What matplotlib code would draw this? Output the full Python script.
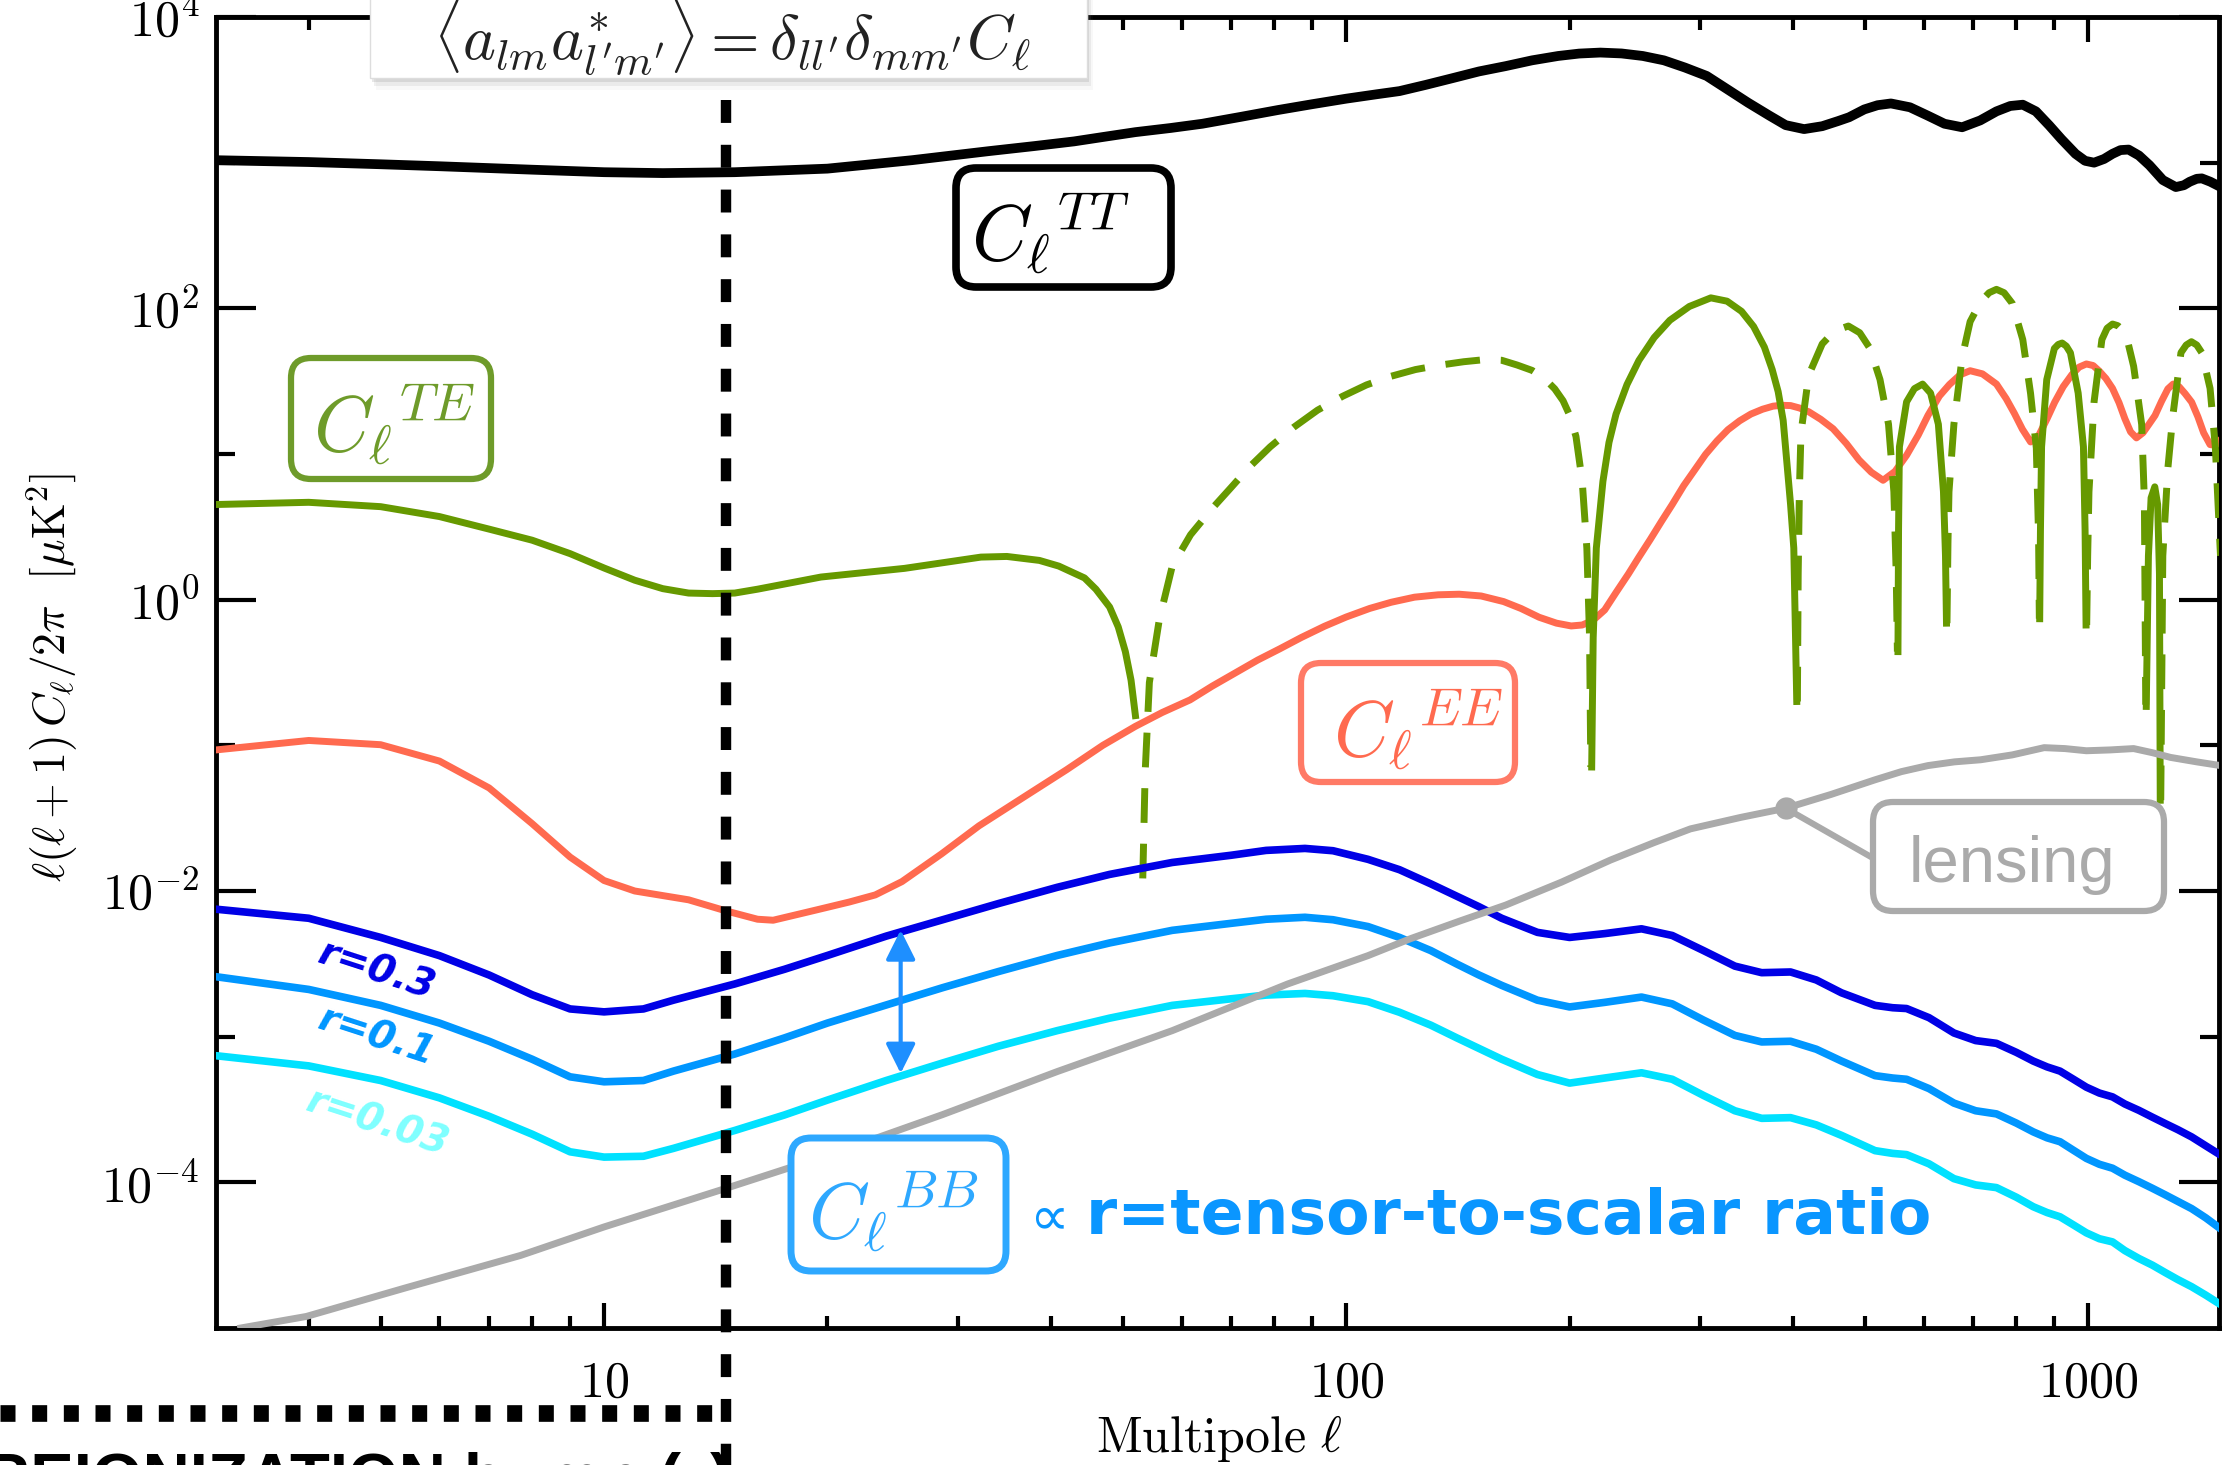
import numpy as np
import matplotlib
matplotlib.use("Agg")
import matplotlib.pyplot as plt
from matplotlib.patches import FancyBboxPatch, Rectangle
from matplotlib.lines import Line2D
from matplotlib.ticker import FixedLocator, NullFormatter

plt.rcParams['mathtext.fontset'] = 'cm'

# ---- spectra: l(l+1)C_l/2pi in uK^2 ----
tt_ell = [3, 4, 5, 6, 8, 10, 12, 15, 20, 26, 33, 38, 43, 47, 52, 58, 64, 72, 81, 90, 100,
          110, 118, 128, 139, 151, 164, 178, 193, 206, 220, 235, 251, 268, 286, 306, 326,
          348, 372, 391, 414, 438, 460, 476, 499, 520, 542, 575, 608, 640, 676, 715, 752,
          785, 816, 850, 886, 920, 961, 990, 1018, 1050, 1078, 1105, 1133, 1170, 1209,
          1260, 1312, 1345, 1370, 1400, 1422, 1460, 1500]
tt_val = [1040, 1010, 975, 945, 895, 860, 848, 860, 910, 1040, 1200, 1300, 1400, 1500, 1620,
          1730, 1850, 2060, 2300, 2520, 2750, 2950, 3100, 3420, 3800, 4230, 4600, 5040, 5400,
          5610, 5700, 5620, 5400, 5040, 4500, 3940, 3200, 2580, 2100, 1810, 1700, 1780, 1930,
          2050, 2320, 2480, 2550, 2400, 2100, 1850, 1750, 1950, 2250, 2450, 2500, 2250, 1800,
          1450, 1150, 1030, 1000, 1060, 1150, 1220, 1230, 1120, 960, 760, 680, 700, 740, 775,
          780, 740, 690]

# TE keeps its sign: positive drawn solid, negative drawn dashed (as |TE|)
te_ell = [3, 4, 5, 6, 7, 8, 9, 10, 11, 12, 13, 14, 15, 16.1, 19.6, 25.4, 32.2, 34.9, 38.6,
          41, 44.4, 46, 48, 49.3, 50.4, 51.3, 52,
          53.2, 53.6, 54.3, 56, 58.3, 61.7, 66.1, 70, 73.9, 79, 84.9, 91.5, 98.9, 106.5, 115,
          124, 134, 144, 154, 162, 170, 178, 185, 191, 196, 200, 204, 208, 211, 212.8, 213.6,
          214.2, 215.2, 217.3, 221.8, 226, 231, 239, 248, 260, 273, 290, 310, 326, 341, 354,
          366, 375, 382, 388, 392, 397, 401, 404.7,
          405.5, 406.5, 408, 410, 420, 438, 455, 475, 492, 508, 524, 538, 547, 551, 553,
          554, 555, 556.5, 569, 583, 598, 613, 628, 638, 642, 644,
          645, 647, 649, 659, 676, 693, 716, 735, 752, 770, 790, 816, 836, 851, 857, 859,
          860, 862, 865, 879, 900, 911, 922, 934, 946, 969, 985, 990, 993,
          995, 998, 1002, 1018, 1043, 1060, 1078, 1096, 1114, 1132, 1151, 1180, 1190, 1195,
          1197, 1205, 1215, 1229, 1240, 1247, 1250,
          1252, 1260, 1280, 1300, 1333, 1355, 1377, 1400, 1422, 1459, 1483, 1507]
te_val = [4.5, 4.66, 4.35, 3.72, 3.05, 2.56, 2.07, 1.65, 1.36, 1.19, 1.11, 1.10, 1.11, 1.18,
          1.43, 1.64, 1.96, 1.98, 1.86, 1.70, 1.41, 1.18, 0.89, 0.65, 0.44, 0.28, 0.16,
          -0.0122, -0.066, -0.27, -0.73, -1.70, -2.79, -4.27, -5.9, -8.05, -11.2, -15.2,
          -20.0, -24.9, -29.8, -34.2, -38.0, -40.8, -43.0, -44.5, -44.0, -40.8, -37.5,
          -33.0, -28.0, -23.2, -18.5, -13.2, -6.5, -2.26, -0.55, -0.071,
          0.071, 0.55, 2.26, 6.5, 12, 18.8, 30, 43.9, 63, 82.8, 103, 118, 112, 95.3, 75,
          54.2, 38, 26.8, 17, 9.3, 4.5, 2.26, 0.2,
          -0.2, -1.5, -5.5, -13.9, -34.8, -57, -70, -75.6, -68, -53, -32.4, -16, -5.5, -1.5,
          -0.44,
          0.44, 3.0, 11.2, 22.8, 28.1, 30.2, 26.2, 16, 5.5, 2.0, 0.69,
          -0.69, -2.5, -5.5, -16, -46, -81, -111, -128, -135, -128, -108, -61, -26, -11,
          -2.7, -0.74,
          0.74, 3.0, 11.2, 32.4, 53, 56.5, 57.8, 55, 49.5, 26.2, 11.2, 3.0, 0.67,
          -0.67, -2.0, -5.5, -22.8, -61, -73, -78, -76, -70, -57, -40, -16, -4.8, -0.19,
          0.185, 2.0, 5.0, 5.95, 4.5, 1.5, 0.042,
          -0.042, -2.0, -8.0, -18.4, -49.6, -56, -59, -56, -49.6, -28.2, -11.2, -2.0]

ee_ell = [3, 4, 5, 6, 7, 8, 9, 10, 11, 13, 14.6, 16.1, 16.9, 19.3, 21.4, 23.2, 25.2, 28.5,
          32, 37, 42, 47, 52, 56.5, 61.6, 66, 70.8, 76, 81.4, 87, 93.5, 100, 107.6, 115,
          123.6, 133, 142, 152, 163, 172, 182, 192, 201, 208, 215, 223, 231, 240, 248, 257,
          266, 275, 285, 295, 305, 316, 327, 339, 351, 364, 376, 386, 397, 408, 420, 436,
          453, 472, 491, 510, 529, 549, 569, 590, 608, 630, 650, 672, 693, 720, 752, 775,
          795, 815, 836, 858, 880, 901, 925, 950, 972, 994, 1015, 1035, 1056, 1078, 1100,
          1120, 1140, 1161, 1185, 1207, 1230, 1255, 1280, 1301, 1325, 1350, 1378, 1405,
          1430, 1459, 1485, 1507]
ee_val = [0.093, 0.108, 0.101, 0.078, 0.051, 0.029, 0.0171, 0.0118, 0.0100, 0.0087, 0.0073,
          0.0064, 0.0063, 0.0074, 0.0084, 0.0094, 0.0116, 0.018, 0.028, 0.045, 0.068, 0.10,
          0.135, 0.168, 0.205, 0.255, 0.313, 0.385, 0.46, 0.55, 0.657, 0.76, 0.871, 0.96,
          1.04, 1.08, 1.09, 1.06, 0.97, 0.87, 0.757, 0.69, 0.66, 0.67, 0.72, 0.85, 1.12, 1.5,
          1.96, 2.6, 3.45, 4.5, 6.07, 7.8, 9.95, 12.3, 14.7, 16.9, 18.8, 20.3, 21.3, 21.6,
          21.5, 20.7, 19.5, 17.3, 14.9, 11.8, 9.1, 7.5, 6.6, 7.6, 9.8, 13.5, 18.4, 25, 30,
          35, 37.3, 35.5, 30.2, 24, 19, 14.8, 12.1, 13.5, 17.5, 22.7, 29, 35, 39.5, 41.5,
          40.5, 37, 33, 28.2, 22.5, 17.5, 14.2, 12.9, 14, 16, 18.4, 23, 28, 30.2, 29, 26,
          22.7, 18, 14, 11.6, 11.5, 12.5]

bb_ell = [3, 4, 5, 6, 7, 8, 9, 10, 11.3, 12.4, 15, 17.5, 20, 24, 28.6, 34, 40.8, 48, 58.3,
          70, 78, 88, 96, 107, 118, 130, 141, 151, 162, 181, 200, 223, 250, 275, 303, 334,
          363, 397, 430, 465, 516, 545, 569, 610, 659, 705, 752, 800, 843, 880, 916, 955,
          994, 1035, 1078, 1120, 1170, 1220, 1270, 1320, 1378, 1440, 1507]
bb_r03 = [7.5e-3, 6.5e-3, 4.8e-3, 3.6e-3, 2.65e-3, 1.94e-3, 1.55e-3, 1.48e-3, 1.55e-3,
          1.78e-3, 2.30e-3, 2.9e-3, 3.61e-3, 4.9e-3, 6.35e-3, 8.2e-3, 1.06e-2, 1.3e-2,
          1.57e-2, 1.76e-2, 1.90e-2, 1.96e-2, 1.89e-2, 1.65e-2, 1.4e-2, 1.12e-2, 9.2e-3,
          7.8e-3, 6.5e-3, 5.2e-3, 4.8e-3, 5.1e-3, 5.5e-3, 4.95e-3, 3.9e-3, 3.05e-3, 2.75e-3,
          2.78e-3, 2.45e-3, 2.0e-3, 1.64e-3, 1.58e-3, 1.56e-3, 1.35e-3, 1.06e-3, 9.4e-4,
          9.0e-4, 7.8e-4, 6.8e-4, 6.2e-4, 5.8e-4, 5.1e-4, 4.5e-4, 4.1e-4, 3.86e-4, 3.45e-4,
          3.12e-4, 2.8e-4, 2.53e-4, 2.3e-4, 2.05e-4, 1.78e-4, 1.54e-4]
bb_r01 = [2.58e-3, 2.11e-3, 1.64e-3, 1.24e-3, 9.3e-4, 7.0e-4, 5.3e-4, 4.9e-4, 5.0e-4, 5.8e-4,
          7.6e-4, 9.8e-4, 1.24e-3, 1.65e-3, 2.17e-3, 2.8e-3, 3.61e-3, 4.4e-3, 5.37e-3, 6.0e-3,
          6.4e-3, 6.6e-3, 6.35e-3, 5.7e-3, 4.8e-3, 3.9e-3, 3.15e-3, 2.65e-3, 2.25e-3, 1.78e-3,
          1.6e-3, 1.72e-3, 1.87e-3, 1.68e-3, 1.3e-3, 1.02e-3, 9.2e-4, 9.3e-4, 8.2e-4, 6.8e-4,
          5.4e-4, 5.2e-4, 5.1e-4, 4.4e-4, 3.5e-4, 3.1e-4, 2.95e-4, 2.55e-4, 2.22e-4, 2.02e-4,
          1.9e-4, 1.66e-4, 1.46e-4, 1.33e-4, 1.25e-4, 1.12e-4, 1.01e-4, 9.1e-5, 8.2e-5,
          7.4e-5, 6.6e-5, 5.7e-5, 4.8e-5]
bb_r003 = [7.4e-4, 6.3e-4, 5.0e-4, 3.8e-4, 2.84e-4, 2.14e-4, 1.62e-4, 1.49e-4, 1.51e-4,
           1.71e-4, 2.27e-4, 2.9e-4, 3.67e-4, 5.0e-4, 6.6e-4, 8.6e-4, 1.10e-3, 1.34e-3,
           1.64e-3, 1.82e-3, 1.93e-3, 1.98e-3, 1.91e-3, 1.74e-3, 1.47e-3, 1.2e-3, 9.8e-4,
           8.3e-4, 7.0e-4, 5.5e-4, 4.8e-4, 5.2e-4, 5.65e-4, 5.1e-4, 3.95e-4, 3.1e-4, 2.75e-4,
           2.78e-4, 2.48e-4, 2.1e-4, 1.65e-4, 1.58e-4, 1.55e-4, 1.34e-4, 1.06e-4, 9.6e-5,
           9.2e-5, 7.9e-5, 6.8e-5, 6.2e-5, 5.8e-5, 5.1e-5, 4.5e-5, 4.1e-5, 3.9e-5, 3.4e-5,
           3.0e-5, 2.7e-5, 2.4e-5, 2.15e-5, 1.92e-5, 1.68e-5, 1.45e-5]

lens_ell = [3.24, 3.97, 5.41, 7.72, 10, 14.7, 20, 28.6, 40.8, 58.3, 83.4, 107, 122, 142, 164,
            195, 227, 260, 291, 340, 391, 450, 516, 560, 608, 660, 716, 790, 872, 930, 994,
            1070, 1151, 1220, 1291, 1400, 1507]
lens_val = [1.0e-5, 1.2e-5, 1.89e-5, 3.15e-5, 4.94e-5, 9.2e-5, 1.53e-4, 2.92e-4, 5.76e-4,
            1.10e-3, 2.30e-3, 3.6e-3, 4.7e-3, 6.2e-3, 8.0e-3, 1.15e-2, 1.63e-2, 2.15e-2,
            2.67e-2, 3.2e-2, 3.7e-2, 4.6e-2, 5.8e-2, 6.6e-2, 7.26e-2, 7.7e-2, 7.96e-2, 8.6e-2,
            9.64e-2, 9.5e-2, 9.18e-2, 9.3e-2, 9.5e-2, 8.9e-2, 8.26e-2, 7.7e-2, 7.26e-2]

# marker line, arrow and lensing pointer (data coordinates)
ell_marker = 14.6
marker_top = 2700
arrow_ell = 25.1
arrow_top = 5.4e-3
arrow_bottom = 5.6e-4
lens_dot = (391, 0.037)
lens_tail = (512, 0.0169)

# colours
green = '#669900'
salmon = '#FF6A4F'
blue_03 = '#0000E6'
blue_01 = '#0096FF'
blue_003 = '#00E1FF'
grey = '#AAAAAA'

# image size in pixels, used to place the overlay boxes
W, H = 2226, 1465


def fx(px):
    return px / W


def fy(py):
    return 1 - py / H


def label_box(fig, x0, y0, x1, y1, color, lw):
    '''Rounded white box given its pixel corners (y measured from the top).'''
    box = FancyBboxPatch((fx(x0), fy(y1)), fx(x1) - fx(x0), fy(y0) - fy(y1),
                         boxstyle="round,pad=0,rounding_size=0.009",
                         mutation_aspect=W / H, transform=fig.transFigure,
                         fc='white', ec=color, lw=lw, zorder=5)
    fig.add_artist(box)


def main():
    fig = plt.figure(figsize=(W / 100, H / 100), dpi=100)
    ax = fig.add_axes([fx(216), 1 - 1328 / H, (2219 - 216) / W, (1328 - 17) / H])
    ax.set_xscale('log')
    ax.set_yscale('log')

    # spectra
    ax.plot(tt_ell, tt_val, color='black', lw=7, zorder=3)
    ax.plot(ee_ell, ee_val, color=salmon, lw=5, zorder=3)
    te = np.array(te_val)
    te_pos = np.where(te > 0, te, np.nan)
    te_neg = np.where(te < 0, -te, np.nan)
    ax.plot(te_ell, te_pos, color=green, lw=5, zorder=3)
    ax.plot(te_ell, te_neg, color=green, lw=5, ls=(0, (5, 3)), zorder=3)
    ax.plot(bb_ell, bb_r03, color=blue_03, lw=5.5, zorder=3)
    ax.plot(bb_ell, bb_r01, color=blue_01, lw=5.5, zorder=3)
    ax.plot(bb_ell, bb_r003, color=blue_003, lw=5.5, zorder=3)
    ax.plot(lens_ell, lens_val, color=grey, lw=5, zorder=3)

    # lensing pointer
    ax.plot([lens_dot[0], lens_tail[0]], [lens_dot[1], lens_tail[1]], color=grey, lw=4.5,
            zorder=3)
    ax.plot(lens_dot[0], lens_dot[1], 'o', color=grey, ms=15, zorder=3)

    # double arrow between r=0.3 and r=0.03
    ax.annotate('', xy=(arrow_ell, arrow_bottom), xytext=(arrow_ell, arrow_top),
                arrowprops=dict(arrowstyle='<|-|>', color='#1E8FFF', lw=3,
                                mutation_scale=45, shrinkA=0, shrinkB=0), zorder=4)

    # dashed marker line, runs off the bottom of the figure
    ax.plot([ell_marker, ell_marker], [marker_top, 1e-6], color='black', lw=7.5,
            ls=(0, (2.2, 2.1)), clip_on=False, zorder=4)

    ax.set_xlim(3, 1500)
    ax.set_ylim(1e-5, 1e4)

    # ticks
    ax.set_xticks([10, 100, 1000])
    ax.set_xticklabels([r'$10$', r'$100$', r'$1000$'], fontsize=36)
    ax.xaxis.set_minor_locator(FixedLocator([4, 5, 6, 7, 8, 9, 20, 30, 40, 50, 60, 70, 80, 90,
                                             200, 300, 400, 500, 600, 700, 800, 900]))
    ax.xaxis.set_minor_formatter(NullFormatter())
    ax.set_yticks([1e-4, 1e-2, 1, 1e2, 1e4])
    ax.set_yticklabels([r'$10^{-4}$', r'$10^{-2}$', r'$10^{0}$', r'$10^{2}$', r'$10^{4}$'],
                       fontsize=36)
    ax.yaxis.set_minor_locator(FixedLocator([1e-3, 1e-1, 10, 1e3]))
    ax.yaxis.set_minor_formatter(NullFormatter())
    ax.tick_params(which='both', direction='in', top=True, right=True, width=3)
    ax.tick_params(axis='x', which='major', length=18, pad=22)
    ax.tick_params(axis='x', which='minor', length=9)
    ax.tick_params(axis='y', which='major', length=29, pad=12)
    ax.tick_params(axis='y', which='minor', length=14)
    for s in ax.spines.values():
        s.set_linewidth(3.5)

    # axis titles
    fig.text(fx(52), fy(677), r'$\ell(\ell+1)\,C_\ell/2\pi\ \ [\mu{\rm K}^2]$', rotation=90,
             fontsize=33, ha='center', va='center')
    fig.text(fx(1219), fy(1438), r'${\rm Multipole}\ \ell$', fontsize=36, ha='center',
             va='center')

    # labelled boxes
    label_box(fig, 956, 168, 1171, 287, 'black', 5.5)
    fig.text(fx(1050), fy(234), r'$C_\ell{}^{TT}$', fontsize=56, ha='center', va='center',
             zorder=6)
    label_box(fig, 291, 358, 491, 479, '#6E9B2A', 4.5)
    fig.text(fx(394), fy(425), r'$C_\ell{}^{TE}$', fontsize=56, color='#6E9B2A',
             ha='center', va='center', zorder=6)
    label_box(fig, 1301, 663, 1515, 782, '#FF7A66', 4.5)
    fig.text(fx(1418), fy(730), r'$C_\ell{}^{EE}$', fontsize=56, color=salmon,
             ha='center', va='center', zorder=6)
    label_box(fig, 791, 1138, 1006, 1271, '#2EA8FF', 5)
    fig.text(fx(893), fy(1212), r'$C_\ell{}^{BB}$', fontsize=56, color='#2EA8FF',
             ha='center', va='center', zorder=6)
    label_box(fig, 1873, 802, 2164, 911, grey, 4.5)
    fig.text(fx(2012), fy(865), 'lensing', fontsize=47, family='Liberation Sans', color=grey,
             ha='center', va='center', zorder=6)

    fig.text(fx(1029), fy(1234), '\u221d', fontsize=40, color='#0A96FF', ha='left',
             va='baseline')
    fig.text(fx(1086), fy(1234), 'r=tensor-to-scalar ratio', fontsize=45.5,
             fontweight='bold', color='#0A96FF', ha='left', va='baseline')

    # r labels along the BB curves
    for label, py, col in [('r=0.3', 971, blue_03), ('r=0.1', 1037, blue_01),
                           ('r=0.03', 1123, '#7FFFFF')]:
        fig.text(fx(377), fy(py), label, fontsize=28, fontweight='bold', style='italic',
                 color=col, rotation=-18, rotation_mode='anchor', ha='center', va='center',
                 zorder=6)

    # formula tab at the top, with a soft shadow
    for off, a in [(12, 0.06), (8, 0.12), (4, 0.2)]:
        fig.add_artist(Rectangle((fx(370 + off / 2), fy(78 + off)), fx(717), 0.1,
                                 transform=fig.transFigure, fc='#888888', ec='none',
                                 alpha=a, zorder=7))
    fig.add_artist(Rectangle((fx(370), fy(78)), fx(717), 0.1, transform=fig.transFigure,
                             fc='white', ec='#DDDDDD', lw=1, zorder=8))
    fig.text(fx(732), fy(38),
             r"$\langle a_{lm}a^{*}_{l'm'}\rangle = \delta_{ll'}\delta_{mm'}C_\ell$",
             fontsize=45, color='#222222', ha='center', va='center', zorder=9)

    # cut-off panel at the bottom left
    fig.add_artist(Line2D([0, fx(722)], [fy(1413), fy(1413)], transform=fig.transFigure,
                          color='black', lw=12, ls=(0, (0.9, 1.0))))
    fig.text(fx(-17), fy(1499), 'REIONIZATION bump (\u03c4)', fontsize=47,
             fontweight='bold', family='Liberation Sans', ha='left', va='baseline')

    fig.savefig('out.png', dpi=100, facecolor='white')


if __name__ == "__main__":
    main()
